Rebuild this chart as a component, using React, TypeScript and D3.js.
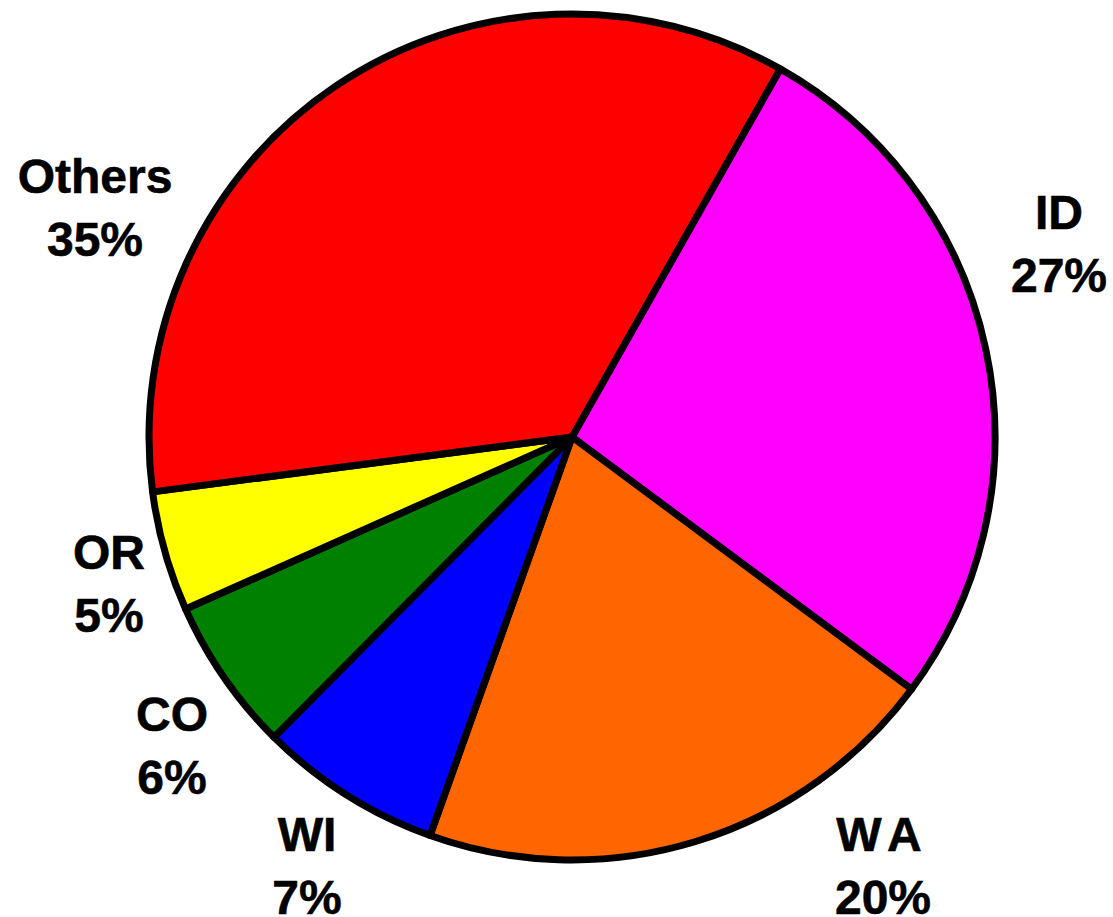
import React from "react";
import * as d3 from "d3";

const categories = ["ID", "WA", "WI", "CO", "OR", "Others"];
const values = [27.0, 20.3, 7.0, 5.9, 4.6, 35.3];
const colors = ["#FF00FF", "#FF6600", "#0000FF", "#008000", "#FFFF00", "#FF0000"];
// label anchor (center x, first baseline y) in px, layout only
const labelAnchors: [number, number][] = [
  [1059, 229],
  [883, 851],
  [307, 851],
  [172, 731],
  [109, 569],
  [95, 193],
];

const W = 1113;
const H = 917;
const cx = 572;
const cy = 437;
const R = 423;
const startDeg = 29.5;

export default function App() {
  const total = d3.sum(values);
  const pie = d3
    .pie<number>()
    .sort(null)
    .value((d) => d)
    .startAngle((startDeg * Math.PI) / 180)
    .endAngle((startDeg * Math.PI) / 180 + 2 * Math.PI);
  const arcs = pie(values);
  const arc = d3.arc<d3.PieArcDatum<number>>().innerRadius(0).outerRadius(R);

  return (
    <svg
      width={W}
      height={H}
      style={{ position: "absolute", left: 0, top: 0, display: "block", background: "#fff" }}
    >
      <g transform={`translate(${cx},${cy})`}>
        {arcs.map((a, i) => (
          <path
            key={categories[i]}
            d={arc(a) || ""}
            fill={colors[i]}
            stroke="#000"
            strokeWidth={7}
            strokeLinejoin="round"
          />
        ))}
      </g>
      {categories.map((c, i) => {
        const [x, y] = labelAnchors[i];
        const pct = Math.round((values[i] / total) * 100);
        return (
          <text
            key={c}
            textAnchor="middle"
            fontFamily="'Liberation Sans', Arial, sans-serif"
            fontWeight="bold"
            fontSize={48}
            fill="#000"
            stroke="#000"
            strokeWidth={0.6}
          >
            <tspan x={x} y={y} letterSpacing={c === "WA" ? 8 : 0}>
              {c}
            </tspan>
            <tspan x={x} y={y + 63}>
              {pct}%
            </tspan>
          </text>
        );
      })}
    </svg>
  );
}
